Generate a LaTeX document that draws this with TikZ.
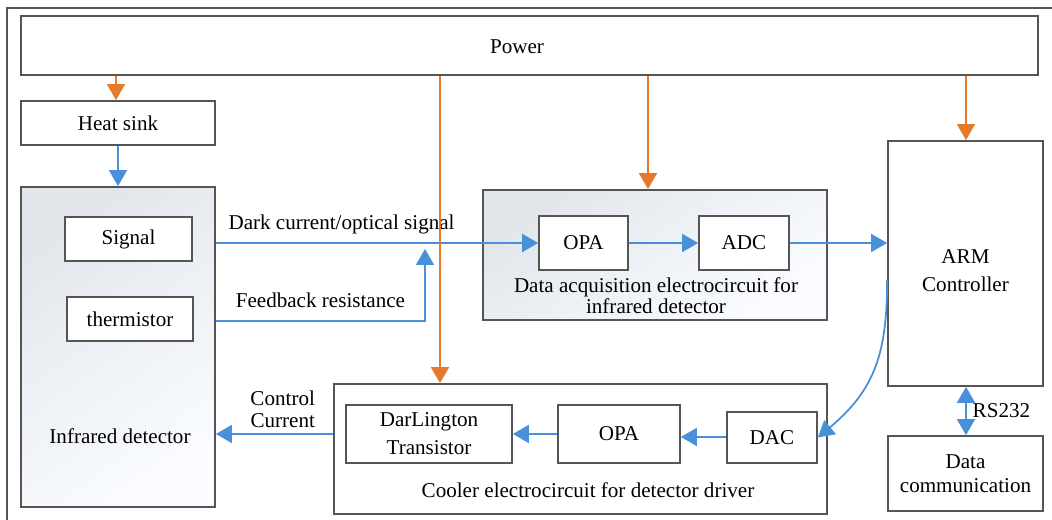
\documentclass[tikz,border=0pt]{standalone}
\usepackage{fontspec}
\setmainfont{Liberation Serif}
\usetikzlibrary{arrows.meta,positioning,calc,shapes}
\definecolor{pwrorange}{RGB}{228,122,42}
\definecolor{sigblue}{RGB}{72,144,218}
\definecolor{boxgray}{RGB}{85,85,85}
\definecolor{shadeA}{RGB}{226,230,235}
\definecolor{shadeB}{RGB}{250,252,255}
\tikzset{
	block/.style = {draw=boxgray, line width=1pt, fill=white, rectangle, align=center, inner sep=0pt},
	shadedblock/.style = {draw=boxgray, line width=1pt, rectangle, top color=shadeA, bottom color=shadeB, shading angle=35},
	txt/.style = {align=center, inner sep=1pt},
	pwrline/.style = {draw=pwrorange, line width=1pt, ->},
	sigline/.style = {draw=sigblue, line width=1pt, ->}
}

\begin{document}
\begin{tikzpicture}[auto,>={Triangle[length=3.2mm,width=3.6mm]},
	every node/.style={font=\fontsize{12pt}{14pt}\selectfont}]
		\useasboundingbox (0,0) rectangle (21.04,10.4);
		\draw [boxgray, line width=0.8pt] (0.14,0) |- (21.04,10.24);

		% left column
		\node [block, minimum width=20.34cm, minimum height=1.18cm] (power) at (10.59,9.49) {};
		\node [txt] (powertxt) at (10.34,9.46) {Power};
		\node [block, minimum width=3.88cm, minimum height=0.88cm] (heat) at (2.36,7.94) {Heat sink};
		\node [shadedblock, minimum width=3.88cm, minimum height=6.4cm] (det) at (2.36,3.46) {};
		\node [txt] (dettxt) at (2.40,1.68) {Infrared detector};
		\node [block, minimum width=2.54cm, minimum height=0.88cm] (signal) at (2.57,5.62) {Signal};
		\node [block, minimum width=2.52cm, minimum height=0.88cm] (therm) at (2.60,4.02) {thermistor};

		% data acquisition
		\node [shadedblock, minimum width=6.88cm, minimum height=2.6cm] (daq) at (13.10,5.30) {};
		\node [block, minimum width=1.78cm, minimum height=1.08cm] (opaA) at (11.67,5.54) {OPA};
		\node [block, minimum width=1.8cm, minimum height=1.08cm] (adc) at (14.88,5.54) {ADC};
		\node [txt, font=\fontsize{12pt}{10.8pt}\selectfont] (daqtxt) at (13.12,4.48) {Data acquisition electrocircuit for\\infrared detector};

		% controller
		\node [block, minimum width=3.1cm, minimum height=4.9cm] (arm) at (19.31,5.13) {};
		\node [txt, font=\fontsize{12pt}{16pt}\selectfont] (armtxt) at (19.31,4.98) {ARM\\Controller};
		\node [block, minimum width=3.1cm, minimum height=1.5cm, font=\fontsize{12pt}{13.6pt}\selectfont] (comm) at (19.31,0.93) {Data\\communication};

		% cooler driver
		\node [block, minimum width=9.86cm, minimum height=2.6cm] (cooler) at (11.61,1.42) {};
		\node [txt] (coolertxt) at (11.76,0.60) {Cooler electrocircuit for detector driver};
		\node [block, minimum width=3.32cm, minimum height=1.16cm, font=\fontsize{12pt}{16pt}\selectfont] (darl) at (8.58,1.72) {DarLington\\Transistor};
		\node [block, minimum width=2.44cm, minimum height=1.16cm] (opaB) at (12.38,1.72) {OPA};
		\node [block, minimum width=1.8cm, minimum height=1.02cm] (dac) at (15.44,1.65) {DAC};

		\coordinate (dropA) at (2.32,0);
		\coordinate (dropB) at (8.80,0);
		\coordinate (dropC) at (12.96,0);
		\coordinate (dropD) at (19.32,0);
		\coordinate (fbtip) at (8.50,5.42);

		\draw [sigline] (heat) -- (det);
		\draw [sigline] (det.east |- opaA.west) -- node[pos=0.39, above, yshift=1pt] {Dark current/optical signal} (opaA.west);
		\draw [sigline] (det.east |- 0,3.98) -| node[pos=0.25, above, yshift=4pt] {Feedback resistance} (fbtip);
		\draw [sigline] (opaA) -- (adc);
		\draw [sigline] (adc) -- (arm.west |- adc);
		\draw [sigline] ([yshift=-0.33cm]arm.west) to[out=-90, in=40, looseness=1.1] (dac.east);
		\draw [sigline] ([yshift=0.3pt]dac.west) -- ([yshift=0.3pt]opaB.east |- dac.west);
		\draw [sigline] (opaB) -- (darl);
		\draw [sigline] (cooler.west |- darl) -- node[pos=0.43, above, align=center, font=\fontsize{12pt}{12pt}\selectfont] {Control\\Current} (det.east |- darl);
		\draw [sigline, <->] (arm.south -| dropD) -- node[right] {RS232} (comm.north -| dropD);

		\draw [pwrline] (power.south -| dropA) -- (heat.north -| dropA);
		\draw [pwrline] (power.south -| dropB) -- (cooler.north -| dropB);
		\draw [pwrline] (power.south -| dropC) -- (daq.north -| dropC);
		\draw [pwrline] (power.south -| dropD) -- (arm.north -| dropD);
	\end{tikzpicture}
\end{document}
